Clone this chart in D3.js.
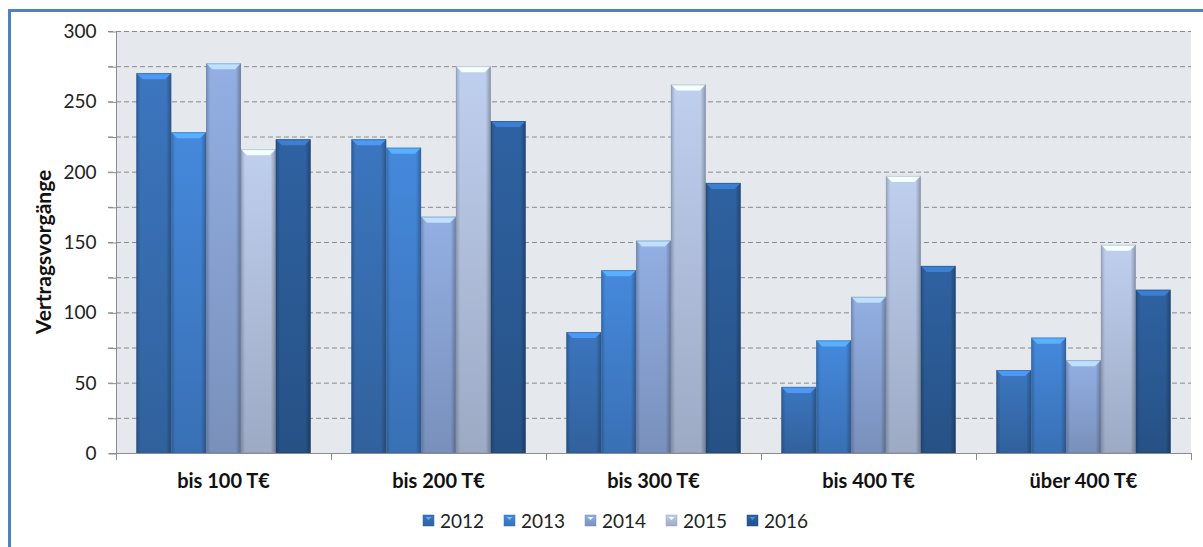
<!DOCTYPE html>
<html><head><meta charset="utf-8">
<script src="https://cdn.jsdelivr.net/npm/d3@7"></script>
<style>body{margin:0;background:#fff;}svg{display:block;font-family:Lato,"Open Sans",sans-serif;}</style>
</head><body><div id="chart"></div>
<script>
const categories = ["bis 100 T€", "bis 200 T€", "bis 300 T€", "bis 400 T€", "über 400 T€"];
const years = ["2012", "2013", "2014", "2015", "2016"];
const v2012 = [270, 223, 86, 47, 59];
const v2013 = [228, 217, 130, 80, 82];
const v2014 = [277, 168, 151, 111, 66];
const v2015 = [216, 275, 262, 197, 148];
const v2016 = [223, 236, 192, 133, 116];
const seriesValues = [v2012, v2013, v2014, v2015, v2016];
const yTicks = [0, 50, 100, 150, 200, 250, 300];
const colors = ["#3a72b8", "#4384d4", "#8ea9db", "#b8c8e6", "#2d5f9c"];

const W = 1203, H = 547;
const m = {left: 116, right: 1191, top: 31, bottom: 453};
const svg = d3.select("#chart").append("svg").attr("width", W).attr("height", H);
const defs = svg.append("defs");

colors.forEach((c, i) => {
  const base = d3.color(c);
  const g = defs.append("linearGradient").attr("id", "g" + i).attr("x1", 0).attr("x2", 0).attr("y1", 0).attr("y2", 1);
  g.append("stop").attr("offset", "0%").attr("stop-color", base.brighter(0.1));
  g.append("stop").attr("offset", "100%").attr("stop-color", base.darker(0.45));
  const h = defs.append("linearGradient").attr("id", "h" + i).attr("x1", 0).attr("x2", 1).attr("y1", 0).attr("y2", 0);
  h.append("stop").attr("offset", "0%").attr("stop-color", "#000").attr("stop-opacity", 0.2);
  h.append("stop").attr("offset", "12%").attr("stop-color", "#000").attr("stop-opacity", 0);
  h.append("stop").attr("offset", "85%").attr("stop-color", "#000").attr("stop-opacity", 0);
  h.append("stop").attr("offset", "100%").attr("stop-color", "#000").attr("stop-opacity", 0.28);
});

// frame
svg.append("rect").attr("x", 9.5).attr("y", 10.5).attr("width", W + 20).attr("height", H + 20)
  .attr("fill", "none").attr("stroke", "#4f81bd").attr("stroke-width", 3);

const y = d3.scaleLinear().domain([0, 300]).range([m.bottom, m.top]);
const x0 = d3.scaleBand().domain(categories).range([m.left, m.right]).paddingInner(0).paddingOuter(0);
const x1 = d3.scaleBand().domain(years).range([0, x0.bandwidth()]).paddingOuter(0.585).paddingInner(0);

svg.append("rect").attr("x", m.left).attr("y", m.top).attr("width", m.right - m.left).attr("height", m.bottom - m.top).attr("fill", "#e5e9ed");

// gridlines every 25
const gridVals = d3.range(25, 301, 25);
svg.append("g").selectAll("line").data(gridVals).join("line")
  .attr("x1", m.left - 8).attr("x2", m.right).attr("y1", d => y(d) + 0.5).attr("y2", d => y(d) + 0.5)
  .attr("stroke", "#8a8a8a").attr("stroke-dasharray", "5,3").attr("stroke-width", 1);

// bars
const groups = svg.append("g").selectAll("g").data(categories).join("g")
  .attr("transform", d => `translate(${x0(d)},0)`);
groups.each(function(cat, ci) {
  const g = d3.select(this);
  years.forEach((yr, si) => {
    const v = seriesValues[si][ci];
    const bx = x1(yr), bw = x1.bandwidth(), by = y(v), bh = y(0) - y(v);
    g.append("rect").attr("x", bx).attr("y", by).attr("width", bw).attr("height", bh).attr("fill", `url(#g${si})`);
    g.append("rect").attr("x", bx).attr("y", by).attr("width", bw).attr("height", bh).attr("fill", `url(#h${si})`);
    const cap = 6;
    const top = d3.color(colors[si]).brighter(0.8);
    g.append("path").attr("d", `M${bx},${by}L${bx + bw},${by}L${bx + bw - cap},${by + cap}L${bx + cap},${by + cap}Z`).attr("fill", top);
    g.append("rect").attr("x", bx + 0.5).attr("y", by + 0.5).attr("width", bw - 1).attr("height", bh - 1)
      .attr("fill", "none").attr("stroke", d3.color(colors[si]).darker(0.8)).attr("stroke-opacity", 0.45);
  });
});

// y axis
const yAxis = d3.axisLeft(y).tickValues(gridVals.concat([0])).tickSize(8).tickFormat(d => yTicks.includes(d) ? d : "");
const ya = svg.append("g").attr("transform", `translate(${m.left + 0.5},0.5)`).call(yAxis);
ya.select(".domain").attr("stroke", "#8c8c8c").attr("d", `M-8,${m.bottom}H0V${m.top}`);
ya.selectAll(".tick line").attr("stroke", "#8c8c8c");
ya.selectAll(".tick text").attr("font-size", 19).attr("fill", "#222").attr("x", -20).attr("font-family", "Lato");

// x axis
svg.append("line").attr("x1", m.left).attr("x2", m.right).attr("y1", m.bottom + 0.5).attr("y2", m.bottom + 0.5).attr("stroke", "#8c8c8c");
const xt = categories.map(c => x0(c)).concat([m.right]);
svg.append("g").selectAll("line").data(xt).join("line")
  .attr("x1", d => Math.round(d) + 0.5).attr("x2", d => Math.round(d) + 0.5).attr("y1", m.bottom).attr("y2", m.bottom + 7).attr("stroke", "#8c8c8c");
svg.append("g").selectAll("text").data(categories).join("text")
  .attr("x", d => x0(d) + x0.bandwidth() / 2).attr("y", 488).attr("text-anchor", "middle")
  .attr("font-size", 20).attr("font-weight", "bold").attr("fill", "#111").text(d => d);

// y title
svg.append("text").attr("transform", "translate(51,252) rotate(-90)").attr("text-anchor", "middle")
  .attr("font-size", 21).attr("font-weight", "bold").attr("fill", "#111").text("Vertragsvorgänge");

// legend
const legX = [423, 504, 585, 666, 747];
const lg = svg.append("g").selectAll("g").data(years).join("g").attr("transform", (d, i) => `translate(${legX[i]},521)`);
lg.append("rect").attr("x", 0).attr("y", -6).attr("width", 11).attr("height", 11).attr("fill", (d, i) => `url(#g${i})`).attr("stroke", (d,i)=>d3.color(colors[i]).darker(0.5)).attr("stroke-width", 0.5);
lg.append("path").attr("d", "M2.5,-4L8.5,-4L5.5,-1Z").attr("fill", (d,i)=>d3.color(colors[i]).brighter(1.2));
lg.append("text").attr("x", 17).attr("y", 7).attr("font-size", 19).attr("fill", "#222").text(d => d);
</script></body></html>
